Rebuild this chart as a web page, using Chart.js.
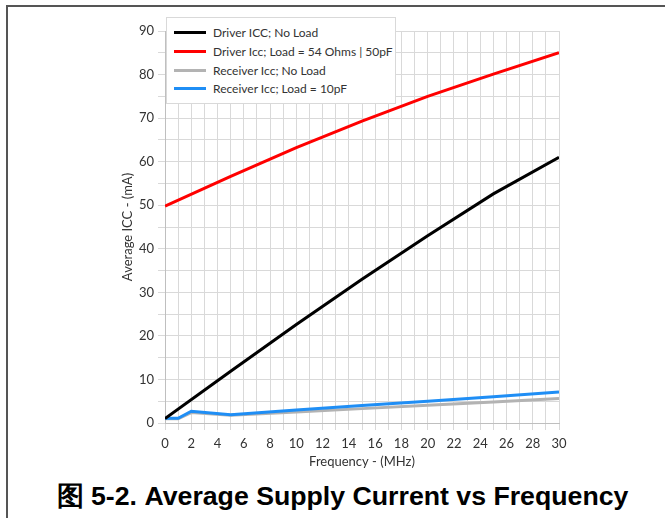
<!DOCTYPE html>
<html>
<head>
<meta charset="utf-8">
<script src="https://cdn.jsdelivr.net/npm/chart.js@4.4.1/dist/chart.umd.min.js"></script>
<style>
  body { margin: 0; width: 665px; height: 518px; position: relative; overflow: hidden; background: #fff; }
  #frame { position: absolute; left: 6px; top: 5px; width: 700px; height: 600px;
           border-top: 2px solid #555; border-left: 2px solid #555; }
  #wrap { position: absolute; left: 0; top: 0; width: 665px; height: 475px; }
  #legend { position: absolute; left: 166px; top: 17px; width: 228px; height: 85px;
            border: 1px solid #d9d9d9; background: #fff; font: 12px Lato, sans-serif; color: #333; }
  .row { position: absolute; left: 0; height: 16px; width: 100%; }
  .swatch { position: absolute; left: 7px; top: 6px; width: 32px; height: 3px; }
  .lbl { position: absolute; left: 46px; top: 0; line-height: 16px; white-space: nowrap; }
  #title { position: absolute; left: 10px; width: 665px; top: 478px; text-align: center;
           font: bold 26.7px "Liberation Sans", Arial, sans-serif; color: #000; }
</style>
</head>
<body>
<div id="frame"></div>
<div id="wrap"><canvas id="chart" width="665" height="475"></canvas></div>
<div id="legend"></div>
<div id="title">图 5-2. Average Supply Current vs Frequency</div>
<script>
// frequencies (MHz)
const driverFreq = [0, 5, 10, 15, 20, 25, 30];
const receiverFreq = [0, 1, 2, 5, 10, 15, 20, 25, 30];

// average ICC (mA)
const driverNoLoad = [1.0, 11.9, 22.6, 33.0, 43.0, 52.6, 61.0];
const driverLoad = [49.8, 56.6, 63.2, 69.3, 75.0, 80.1, 85.0];
const receiverNoLoad = [1.0, 1.0, 2.4, 1.8, 2.5, 3.3, 4.1, 4.8, 5.6];
const receiverLoad = [1.1, 1.1, 2.7, 1.9, 3.0, 4.0, 5.0, 6.0, 7.1];

const seriesLabels = [
  'Driver ICC; No Load',
  'Driver Icc; Load = 54 Ohms | 50pF',
  'Receiver Icc; No Load',
  'Receiver Icc; Load = 10pF',
];
const seriesColors = ['#000000', '#ff0000', '#b3b3b3', '#1f8ef5'];

const toPoints = (xs, ys) => xs.map((x, i) => ({ x: x, y: ys[i] }));

const seriesData = [
  toPoints(driverFreq, driverNoLoad),
  toPoints(driverFreq, driverLoad),
  toPoints(receiverFreq, receiverNoLoad),
  toPoints(receiverFreq, receiverLoad),
];
// blue drawn above grey
const drawOrder = [0, 0, 2, 1];

const gridColor = '#d9d9d9';
const tickFont = { family: 'Lato', size: 13 };

new Chart(document.getElementById('chart'), {
  type: 'line',
  data: {
    datasets: seriesData.map((d, i) => ({
      label: seriesLabels[i],
      data: d,
      borderColor: seriesColors[i],
      backgroundColor: seriesColors[i],
      borderWidth: 3,
      pointRadius: 0,
      tension: 0,
      order: drawOrder[i],
    })),
  },
  options: {
    responsive: false,
    animation: false,
    layout: { padding: { left: 113, top: 31, right: 106, bottom: 0 } },
    plugins: { legend: { display: false }, tooltip: { enabled: false } },
    scales: {
      x: {
        type: 'linear',
        min: 0,
        max: 30,
        afterFit: (s) => { s.height = 52; },
        grid: { color: gridColor, tickColor: gridColor, tickLength: 7 },
        border: { color: '#bfbfbf' },
        ticks: {
          stepSize: 1,
          autoSkip: false,
          maxRotation: 0,
          padding: 6,
          color: '#333',
          font: tickFont,
          callback: (v) => (v % 2 === 0 ? v : ''),
        },
        title: {
          display: true,
          text: 'Frequency - (MHz)',
          color: '#333',
          font: tickFont,
          padding: { top: 0, bottom: 5 },
        },
      },
      y: {
        min: 0,
        max: 90,
        afterFit: (s) => { s.width = 52; },
        grid: { color: gridColor, tickColor: gridColor, tickLength: 7 },
        border: { color: '#bfbfbf' },
        ticks: {
          stepSize: 5,
          padding: 4,
          color: '#333',
          font: tickFont,
          callback: (v) => (v % 10 === 0 ? v : ''),
        },
        title: {
          display: true,
          text: 'Average ICC - (mA)',
          color: '#333',
          font: tickFont,
          padding: { top: 7, bottom: 0 },
        },
      },
    },
  },
});

// legend box overlapping the plot, built from the same labels/colors
const legend = document.getElementById('legend');
seriesLabels.forEach((label, i) => {
  const row = document.createElement('div');
  row.className = 'row';
  row.style.top = (7 + i * 18.8) + 'px';
  row.innerHTML = '<span class="swatch" style="background:' + seriesColors[i] + '"></span>' +
    '<span class="lbl">' + label + '</span>';
  legend.appendChild(row);
});
</script>
</body>
</html>
